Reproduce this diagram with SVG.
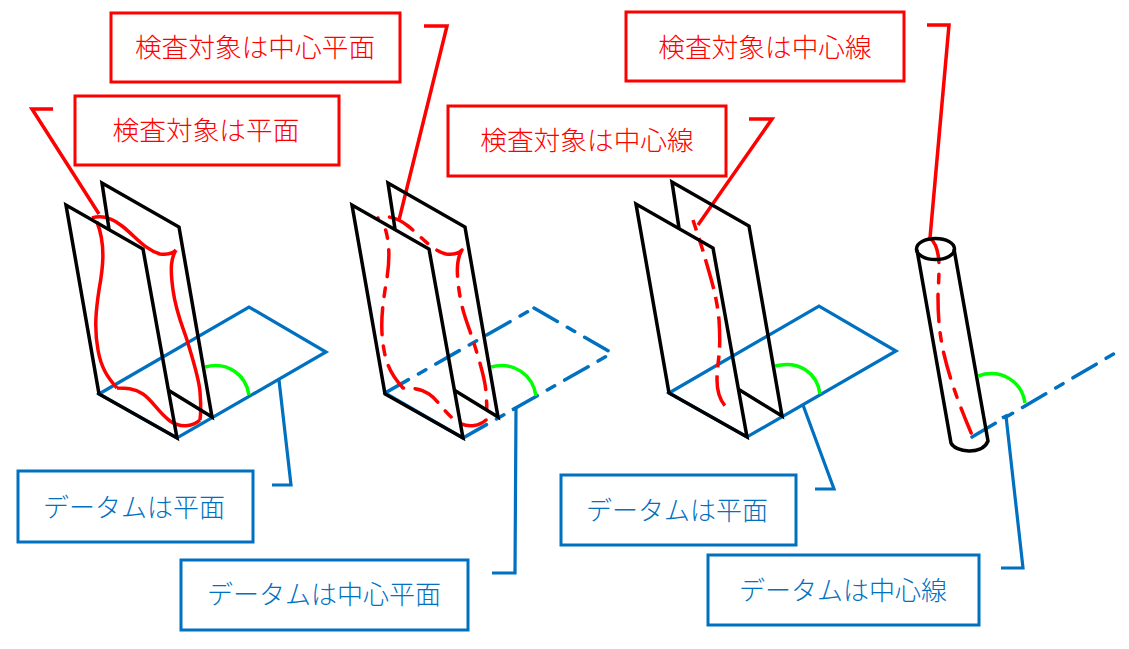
<svg xmlns="http://www.w3.org/2000/svg" width="1129" height="649" viewBox="0 0 1129 649">
<style>
.k{fill:none;stroke:#000;stroke-width:3.5;stroke-linejoin:miter}
.r{fill:none;stroke:#f00;stroke-width:3.5}
.b{fill:none;stroke:#0070c0;stroke-width:3.2}
.g{fill:none;stroke:#0f0;stroke-width:3.5}
.d{stroke-dasharray:27 11.500 8.500 11.500;stroke-linecap:round;stroke-width:3.5}
.rb{fill:#fff;stroke:#f00;stroke-width:3}
.bb{fill:#fff;stroke:#0070c0;stroke-width:3}
text{font-family:"Noto Sans CJK JP","Liberation Serif",serif;font-weight:300;text-anchor:middle}
.rt{fill:#f00;font-size:26.700px}
.bt{fill:#0070c0;font-size:26px}
</style>
<defs>
<path id="pl" d="M99 394 L249 307 L326 352 L177 438 Z"/>
<path id="wave" d="M176 250 C172 254 167 255 160 254 C145 250 135 236 122 226 C112 218 102 215 92 218 M176 250 C171 258 170 268 173 290 C176 312 182 325 187 340 C193 360 199 378 200 392 C201 405 201 413 200 420 M200 420 C192 427 180 428 170 421 C158 412 152 400 143 394 C134 388 125 388 117 388 M117 388 C107 377 101 367 98 350 C94 328 96 310 99 290 C103 268 106 245 97 222"/>
<g id="fr"><path d="M109 229 L102 183 L179 227 L212 417 L168 390"/><path d="M99 394 L66 205 L143 249 L177 438 Z"/></g>
</defs>
<g id="connectors">
<path class="r" d="M53 109 H32 L99 214"/>
<path class="r" d="M424 26 H447 L399 220"/>
<path class="r" d="M749 119 H772 L698 225"/>
<path class="r" d="M927 25 H949 L930 238"/>
<path class="b" d="M272 485 H291 L279 380"/>
<path class="b" d="M492 573 H515 L516 408 L512 410"/>
<path class="b" d="M815 489 H834 L803 405"/>
<path class="b" d="M1001 568 H1023 L1006 416 L1002 418"/>
</g>
<g id="figure-1">
<use href="#pl" class="b"/>
<use href="#wave" class="r"/>
<use href="#fr" class="k"/>
<path class="g" d="M205 367 C228 361 246 375 249 395"/>
</g>
<g id="figure-2">
<path class="b" d="M385 393 L463 438"/>
<path class="b d" d="M385 393 L534 308 M534 308 L612 353 M463 438 L607 356"/>
<use href="#wave" class="r d" x="286" y="0"/>
<use href="#fr" class="k" x="286" y="0"/>
<path class="g" d="M491 367 C514 361 533 375 536 396"/>
</g>
<g id="figure-3">
<use href="#pl" class="b" x="570" y="-1"/>
<path class="r" stroke-dasharray="11 8 14 8 31 8 12 8 31 8 12 8 32" d="M693 220 L703 251 C707 265 711 278 714 290 C717 303 718 310 719 320 C720 335 720 345 719 355 C718 365 717 372 717 380 C717 392 720 401 727 408"/>
<use href="#fr" class="k" x="570" y="-1"/>
<path class="g" d="M775 366 C798 360 817 372 820 394"/>
</g>
<g id="figure-4">
<path class="b d" d="M972 437 L1117 352"/>
<path class="r d" d="M930 238 C936 243 939 252 939 267 C939 280 938 290 938 297 C938 320 940 335 943 350 C948 372 955 395 972 435"/>
<path class="k" d="M917 250 L951 443 C955 452 982 456 988 441 L954 249"/>
<ellipse class="k" cx="935.500" cy="249" rx="19" ry="10.500"/>
<path class="g" d="M978 376 C1002 368 1022 382 1025 403"/>
</g>
<g id="label-1"><rect class="rb" x="75" y="96" width="264" height="69"/><text class="rt" x="206" y="140">検査対象は平面</text></g>
<g id="label-2"><rect class="rb" x="111" y="13" width="289" height="69"/><text class="rt" x="255" y="57">検査対象は中心平面</text></g>
<g id="label-3"><rect class="rb" x="448" y="106" width="278" height="70"/><text class="rt" x="587" y="150">検査対象は中心線</text></g>
<g id="label-4"><rect class="rb" x="626" y="12" width="278" height="69"/><text class="rt" x="765" y="57">検査対象は中心線</text></g>
<g id="label-5"><rect class="bb" x="18" y="471" width="235" height="71"/><text class="bt" x="134" y="517">データムは平面</text></g>
<g id="label-6"><rect class="bb" x="181" y="560" width="287" height="70"/><text class="bt" x="324" y="604">データムは中心平面</text></g>
<g id="label-7"><rect class="bb" x="561" y="475" width="235" height="70"/><text class="bt" x="677" y="520">データムは平面</text></g>
<g id="label-8"><rect class="bb" x="708" y="555" width="271" height="70"/><text class="bt" x="843" y="600">データムは中心線</text></g>
</svg>
